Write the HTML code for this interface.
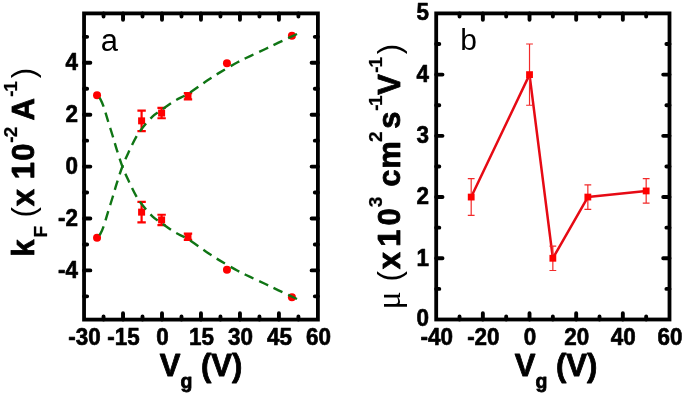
<!DOCTYPE html>
<html><head><meta charset="utf-8"><title>figure</title>
<style>html,body{margin:0;padding:0;background:#fff;overflow:hidden}svg{display:block;will-change:transform}</style></head>
<body>
<svg width="685" height="398" viewBox="0 0 685 398">
<rect x="0" y="0" width="685" height="398" fill="#fff"/>
<circle cx="97.04" cy="95.30" r="4.0" fill="#fe0000"/>
<path d="M141.60 110.69V131.03M137.40 110.69h8.4M137.40 131.03h8.4" stroke="#fe0000" stroke-width="2.2" fill="none"/>
<rect x="138.10" y="117.36" width="7" height="7" fill="#fe0000"/>
<path d="M161.61 107.82V118.25M157.41 107.82h8.4M157.41 118.25h8.4" stroke="#fe0000" stroke-width="2.2" fill="none"/>
<rect x="158.11" y="109.54" width="7" height="7" fill="#fe0000"/>
<path d="M187.98 93.22V99.47M183.78 93.22h8.4M183.78 99.47h8.4" stroke="#fe0000" stroke-width="2.2" fill="none"/>
<rect x="184.48" y="92.84" width="7" height="7" fill="#fe0000"/>
<circle cx="226.96" cy="63.22" r="4.0" fill="#fe0000"/>
<circle cx="291.92" cy="35.84" r="4.0" fill="#fe0000"/>
<circle cx="97.04" cy="237.70" r="4.0" fill="#fe0000"/>
<path d="M141.60 201.97V222.31M137.40 201.97h8.4M137.40 222.31h8.4" stroke="#fe0000" stroke-width="2.2" fill="none"/>
<rect x="138.10" y="208.64" width="7" height="7" fill="#fe0000"/>
<path d="M161.61 214.75V225.18M157.41 214.75h8.4M157.41 225.18h8.4" stroke="#fe0000" stroke-width="2.2" fill="none"/>
<rect x="158.11" y="216.46" width="7" height="7" fill="#fe0000"/>
<path d="M187.98 233.53V239.78M183.78 233.53h8.4M183.78 239.78h8.4" stroke="#fe0000" stroke-width="2.2" fill="none"/>
<rect x="184.48" y="233.16" width="7" height="7" fill="#fe0000"/>
<circle cx="226.96" cy="269.78" r="4.0" fill="#fe0000"/>
<circle cx="291.92" cy="297.16" r="4.0" fill="#fe0000"/>
<path d="M297.00 34.00C293.92 35.45 283.77 40.20 278.50 42.70C273.23 45.20 270.03 46.82 265.40 49.00C260.77 51.18 255.33 53.58 250.70 55.80C246.07 58.02 242.78 59.50 237.60 62.30C232.42 65.10 224.60 69.60 219.60 72.60C214.60 75.60 212.83 76.78 207.60 80.30C202.37 83.82 193.65 90.30 188.20 93.70C182.75 97.10 179.33 98.00 174.90 100.70C170.47 103.40 165.35 107.23 161.60 109.90C157.85 112.57 155.63 113.65 152.40 116.70C149.17 119.75 144.92 124.80 142.20 128.20C139.48 131.60 138.32 133.20 136.10 137.10C133.88 141.00 131.18 146.70 128.90 151.60C126.62 156.50 124.45 161.12 122.40 166.50C120.35 171.88 118.22 178.82 116.60 183.90C114.98 188.98 114.20 192.08 112.70 197.00C111.20 201.92 109.08 208.58 107.60 213.40C106.12 218.22 104.97 222.57 103.80 225.90C102.63 229.23 101.70 231.42 100.60 233.40C99.50 235.38 97.77 237.07 97.20 237.80" fill="none" stroke="#0f7514" stroke-width="2.4" stroke-dasharray="9.81 6.21"/>
<path d="M297.00 299.00C293.92 297.55 283.77 292.80 278.50 290.30C273.23 287.80 270.03 286.18 265.40 284.00C260.77 281.82 255.33 279.42 250.70 277.20C246.07 274.98 242.78 273.50 237.60 270.70C232.42 267.90 224.60 263.40 219.60 260.40C214.60 257.40 212.83 256.22 207.60 252.70C202.37 249.18 193.65 242.70 188.20 239.30C182.75 235.90 179.33 235.00 174.90 232.30C170.47 229.60 165.35 225.77 161.60 223.10C157.85 220.43 155.63 219.35 152.40 216.30C149.17 213.25 144.92 208.20 142.20 204.80C139.48 201.40 138.32 199.80 136.10 195.90C133.88 192.00 131.18 186.30 128.90 181.40C126.62 176.50 124.45 171.88 122.40 166.50C120.35 161.12 118.22 154.18 116.60 149.10C114.98 144.02 114.20 140.92 112.70 136.00C111.20 131.08 109.08 124.42 107.60 119.60C106.12 114.78 104.97 110.43 103.80 107.10C102.63 103.77 101.70 101.58 100.60 99.60C99.50 97.62 97.77 95.93 97.20 95.20" fill="none" stroke="#0f7514" stroke-width="2.4" stroke-dasharray="9.81 6.21"/>
<rect x="84.05" y="13.40" width="233.85" height="306.20" fill="none" stroke="#000" stroke-width="3.8"/>
<path d="M123.02 13.40v6.3M123.02 319.60v-6.3M162.00 13.40v6.3M162.00 319.60v-6.3M200.97 13.40v6.3M200.97 319.60v-6.3M239.95 13.40v6.3M239.95 319.60v-6.3M278.92 13.40v6.3M278.92 319.60v-6.3M103.54 13.40v3.1M103.54 319.60v-3.1M142.51 13.40v3.1M142.51 319.60v-3.1M181.49 13.40v3.1M181.49 319.60v-3.1M220.46 13.40v3.1M220.46 319.60v-3.1M259.44 13.40v3.1M259.44 319.60v-3.1M298.41 13.40v3.1M298.41 319.60v-3.1M84.05 270.40h6.3M317.90 270.40h-6.3M84.05 218.50h6.3M317.90 218.50h-6.3M84.05 166.60h6.3M317.90 166.60h-6.3M84.05 114.70h6.3M317.90 114.70h-6.3M84.05 62.80h6.3M317.90 62.80h-6.3M84.05 296.35h3.1M317.90 296.35h-3.1M84.05 244.45h3.1M317.90 244.45h-3.1M84.05 192.55h3.1M317.90 192.55h-3.1M84.05 140.65h3.1M317.90 140.65h-3.1M84.05 88.75h3.1M317.90 88.75h-3.1M84.05 36.85h3.1M317.90 36.85h-3.1" fill="none" stroke="#000" stroke-width="3.9" stroke-linecap="round"/>
<polyline points="471.19,197.06 529.52,74.62 552.85,258.28 587.85,197.06 646.17,190.94" fill="none" stroke="#e60a14" stroke-width="2.5" stroke-linejoin="round"/>
<path d="M471.19 178.69V215.43M467.80 178.69h6.8M467.80 215.43h6.8" stroke="#f22a2a" stroke-width="1.2" fill="none"/>
<rect x="467.80" y="193.66" width="6.8" height="6.8" fill="#fe0000"/>
<path d="M529.52 44.01V105.23M526.12 44.01h6.8M526.12 105.23h6.8" stroke="#f22a2a" stroke-width="1.2" fill="none"/>
<rect x="526.12" y="71.22" width="6.8" height="6.8" fill="#fe0000"/>
<path d="M552.85 246.04V270.52M549.45 246.04h6.8M549.45 270.52h6.8" stroke="#f22a2a" stroke-width="1.2" fill="none"/>
<rect x="549.45" y="254.88" width="6.8" height="6.8" fill="#fe0000"/>
<path d="M587.85 184.82V209.30M584.45 184.82h6.8M584.45 209.30h6.8" stroke="#f22a2a" stroke-width="1.2" fill="none"/>
<rect x="584.45" y="193.66" width="6.8" height="6.8" fill="#fe0000"/>
<path d="M646.17 178.69V203.18M642.77 178.69h6.8M642.77 203.18h6.8" stroke="#f22a2a" stroke-width="1.2" fill="none"/>
<rect x="642.77" y="187.54" width="6.8" height="6.8" fill="#fe0000"/>
<rect x="436.20" y="13.40" width="233.30" height="306.10" fill="none" stroke="#000" stroke-width="3.8"/>
<path d="M482.86 13.40v6.3M482.86 319.50v-6.3M529.52 13.40v6.3M529.52 319.50v-6.3M576.18 13.40v6.3M576.18 319.50v-6.3M622.84 13.40v6.3M622.84 319.50v-6.3M459.53 13.40v3.1M459.53 319.50v-3.1M506.19 13.40v3.1M506.19 319.50v-3.1M552.85 13.40v3.1M552.85 319.50v-3.1M599.51 13.40v3.1M599.51 319.50v-3.1M646.17 13.40v3.1M646.17 319.50v-3.1M436.20 258.28h6.3M669.50 258.28h-6.3M436.20 197.06h6.3M669.50 197.06h-6.3M436.20 135.84h6.3M669.50 135.84h-6.3M436.20 74.62h6.3M669.50 74.62h-6.3M436.20 288.89h3.1M669.50 288.89h-3.1M436.20 227.67h3.1M669.50 227.67h-3.1M436.20 166.45h3.1M669.50 166.45h-3.1M436.20 105.23h3.1M669.50 105.23h-3.1M436.20 44.01h3.1M669.50 44.01h-3.1" fill="none" stroke="#000" stroke-width="3.9" stroke-linecap="round"/>
<text transform="translate(84.55,344.90) scale(1.02,1.1)" font-family="Liberation Sans, Arial, sans-serif" font-size="22" font-weight="bold" text-anchor="middle" fill="#000" stroke="#000" stroke-width="0.6" stroke-linejoin="round">-30</text>
<text transform="translate(123.52,344.90) scale(1.02,1.1)" font-family="Liberation Sans, Arial, sans-serif" font-size="22" font-weight="bold" text-anchor="middle" fill="#000" stroke="#000" stroke-width="0.6" stroke-linejoin="round">-15</text>
<text transform="translate(162.50,344.90) scale(1.02,1.1)" font-family="Liberation Sans, Arial, sans-serif" font-size="22" font-weight="bold" text-anchor="middle" fill="#000" stroke="#000" stroke-width="0.6" stroke-linejoin="round">0</text>
<text transform="translate(201.47,344.90) scale(1.02,1.1)" font-family="Liberation Sans, Arial, sans-serif" font-size="22" font-weight="bold" text-anchor="middle" fill="#000" stroke="#000" stroke-width="0.6" stroke-linejoin="round">15</text>
<text transform="translate(240.45,344.90) scale(1.02,1.1)" font-family="Liberation Sans, Arial, sans-serif" font-size="22" font-weight="bold" text-anchor="middle" fill="#000" stroke="#000" stroke-width="0.6" stroke-linejoin="round">30</text>
<text transform="translate(279.42,344.90) scale(1.02,1.1)" font-family="Liberation Sans, Arial, sans-serif" font-size="22" font-weight="bold" text-anchor="middle" fill="#000" stroke="#000" stroke-width="0.6" stroke-linejoin="round">45</text>
<text transform="translate(318.40,344.90) scale(1.02,1.1)" font-family="Liberation Sans, Arial, sans-serif" font-size="22" font-weight="bold" text-anchor="middle" fill="#000" stroke="#000" stroke-width="0.6" stroke-linejoin="round">60</text>
<text transform="translate(78.00,277.60) scale(1.02,1.1)" font-family="Liberation Sans, Arial, sans-serif" font-size="22" font-weight="bold" text-anchor="end" fill="#000" stroke="#000" stroke-width="0.6" stroke-linejoin="round">-4</text>
<text transform="translate(78.00,225.70) scale(1.02,1.1)" font-family="Liberation Sans, Arial, sans-serif" font-size="22" font-weight="bold" text-anchor="end" fill="#000" stroke="#000" stroke-width="0.6" stroke-linejoin="round">-2</text>
<text transform="translate(78.00,173.80) scale(1.02,1.1)" font-family="Liberation Sans, Arial, sans-serif" font-size="22" font-weight="bold" text-anchor="end" fill="#000" stroke="#000" stroke-width="0.6" stroke-linejoin="round">0</text>
<text transform="translate(78.00,121.90) scale(1.02,1.1)" font-family="Liberation Sans, Arial, sans-serif" font-size="22" font-weight="bold" text-anchor="end" fill="#000" stroke="#000" stroke-width="0.6" stroke-linejoin="round">2</text>
<text transform="translate(78.00,70.00) scale(1.02,1.1)" font-family="Liberation Sans, Arial, sans-serif" font-size="22" font-weight="bold" text-anchor="end" fill="#000" stroke="#000" stroke-width="0.6" stroke-linejoin="round">4</text>
<text transform="translate(436.70,344.90) scale(1.02,1.1)" font-family="Liberation Sans, Arial, sans-serif" font-size="22" font-weight="bold" text-anchor="middle" fill="#000" stroke="#000" stroke-width="0.6" stroke-linejoin="round">-40</text>
<text transform="translate(483.36,344.90) scale(1.02,1.1)" font-family="Liberation Sans, Arial, sans-serif" font-size="22" font-weight="bold" text-anchor="middle" fill="#000" stroke="#000" stroke-width="0.6" stroke-linejoin="round">-20</text>
<text transform="translate(530.02,344.90) scale(1.02,1.1)" font-family="Liberation Sans, Arial, sans-serif" font-size="22" font-weight="bold" text-anchor="middle" fill="#000" stroke="#000" stroke-width="0.6" stroke-linejoin="round">0</text>
<text transform="translate(576.68,344.90) scale(1.02,1.1)" font-family="Liberation Sans, Arial, sans-serif" font-size="22" font-weight="bold" text-anchor="middle" fill="#000" stroke="#000" stroke-width="0.6" stroke-linejoin="round">20</text>
<text transform="translate(623.34,344.90) scale(1.02,1.1)" font-family="Liberation Sans, Arial, sans-serif" font-size="22" font-weight="bold" text-anchor="middle" fill="#000" stroke="#000" stroke-width="0.6" stroke-linejoin="round">40</text>
<text transform="translate(670.00,344.90) scale(1.02,1.1)" font-family="Liberation Sans, Arial, sans-serif" font-size="22" font-weight="bold" text-anchor="middle" fill="#000" stroke="#000" stroke-width="0.6" stroke-linejoin="round">60</text>
<text transform="translate(429.00,325.90) scale(1.02,1.1)" font-family="Liberation Sans, Arial, sans-serif" font-size="22" font-weight="bold" text-anchor="end" fill="#000" stroke="#000" stroke-width="0.6" stroke-linejoin="round">0</text>
<text transform="translate(429.00,265.68) scale(1.02,1.1)" font-family="Liberation Sans, Arial, sans-serif" font-size="22" font-weight="bold" text-anchor="end" fill="#000" stroke="#000" stroke-width="0.6" stroke-linejoin="round">1</text>
<text transform="translate(429.00,204.46) scale(1.02,1.1)" font-family="Liberation Sans, Arial, sans-serif" font-size="22" font-weight="bold" text-anchor="end" fill="#000" stroke="#000" stroke-width="0.6" stroke-linejoin="round">2</text>
<text transform="translate(429.00,143.24) scale(1.02,1.1)" font-family="Liberation Sans, Arial, sans-serif" font-size="22" font-weight="bold" text-anchor="end" fill="#000" stroke="#000" stroke-width="0.6" stroke-linejoin="round">3</text>
<text transform="translate(429.00,82.02) scale(1.02,1.1)" font-family="Liberation Sans, Arial, sans-serif" font-size="22" font-weight="bold" text-anchor="end" fill="#000" stroke="#000" stroke-width="0.6" stroke-linejoin="round">4</text>
<text transform="translate(429.00,19.80) scale(1.02,1.1)" font-family="Liberation Sans, Arial, sans-serif" font-size="22" font-weight="bold" text-anchor="end" fill="#000" stroke="#000" stroke-width="0.6" stroke-linejoin="round">5</text>
<text transform="translate(100.80,51.20) scale(1.0,1.0)" font-family="Liberation Sans, Arial, sans-serif" font-size="31" font-weight="normal" text-anchor="start" fill="#000" >a</text>
<text transform="translate(460.30,50.40) scale(1.0,1.0)" font-family="Liberation Sans, Arial, sans-serif" font-size="30" font-weight="normal" text-anchor="start" fill="#000" >b</text>
<text transform="translate(201.00,376.0) scale(1,1.01)" font-family="Liberation Sans, Arial, sans-serif" font-size="31" font-weight="bold" text-anchor="middle" fill="#000" stroke="#000" stroke-width="0.8" stroke-linejoin="round">V<tspan font-size="19.5" dy="12">g</tspan><tspan dy="-12"> (V)</tspan></text>
<text transform="translate(556.00,376.0) scale(1,1.01)" font-family="Liberation Sans, Arial, sans-serif" font-size="31" font-weight="bold" text-anchor="middle" fill="#000" stroke="#000" stroke-width="0.8" stroke-linejoin="round">V<tspan font-size="19.5" dy="12">g</tspan><tspan dy="-12"> (V)</tspan></text>
<text transform="translate(34.20,0) rotate(-90)" font-family="Liberation Sans, Arial, sans-serif" font-size="31" font-weight="bold" fill="#000" stroke="#000" stroke-width="0.8" stroke-linejoin="round"><tspan x="-256.77" y="0.00">k</tspan><tspan x="-237.59" y="12.40" font-size="19" stroke-width="0.25">F</tspan> <tspan x="-217.41" y="0.00" font-weight="normal" stroke="none">(</tspan><tspan x="-206.19" y="0.00">x</tspan> <tspan x="-179.25" y="0.00">1</tspan><tspan x="-160.75" y="0.00">0</tspan><tspan x="-142.65" y="-17.50" font-size="19" stroke-width="0.25">-</tspan><tspan x="-137.13" y="-17.50" font-size="19" stroke-width="0.25">2</tspan> <tspan x="-120.52" y="0.00">A</tspan><tspan x="-96.85" y="-17.50" font-size="19" stroke-width="0.25">-</tspan><tspan x="-91.85" y="-17.50" font-size="19" stroke-width="0.25">1</tspan><tspan x="-78.29" y="0.00" font-weight="normal" stroke="none">)</tspan></text>
<text transform="translate(400.20,0) rotate(-90)" font-family="Liberation Sans, Arial, sans-serif" font-size="31" font-weight="bold" fill="#000" stroke="#000" stroke-width="0.8" stroke-linejoin="round"><tspan x="-309.4" y="0" font-family="Liberation Serif, DejaVu Serif, serif" font-weight="normal" font-size="34" stroke="none">μ</tspan> <tspan x="-281.38" y="0.00" font-weight="normal" stroke="none">(</tspan><tspan x="-269.26" y="0.00">x</tspan> <tspan x="-246.85" y="0.00">1</tspan><tspan x="-225.45" y="0.00">0</tspan><tspan x="-207.36" y="-17.80" font-size="19" stroke-width="0.25">3</tspan> <tspan x="-186.72" y="0.00">c</tspan><tspan x="-168.79" y="0.00">m</tspan><tspan x="-142.03" y="-17.80" font-size="19" stroke-width="0.25">2</tspan><tspan x="-128.78" y="0.00">s</tspan><tspan x="-110.75" y="-17.80" font-size="19" stroke-width="0.25">-</tspan><tspan x="-106.00" y="-17.80" font-size="19" stroke-width="0.25">1</tspan><tspan x="-94.84" y="0.00">V</tspan><tspan x="-72.63" y="-17.80" font-size="19" stroke-width="0.25">-</tspan><tspan x="-67.50" y="-17.80" font-size="19" stroke-width="0.25">1</tspan><tspan x="-54.22" y="0.00" font-weight="normal" stroke="none">)</tspan></text>
</svg>
</body></html>
